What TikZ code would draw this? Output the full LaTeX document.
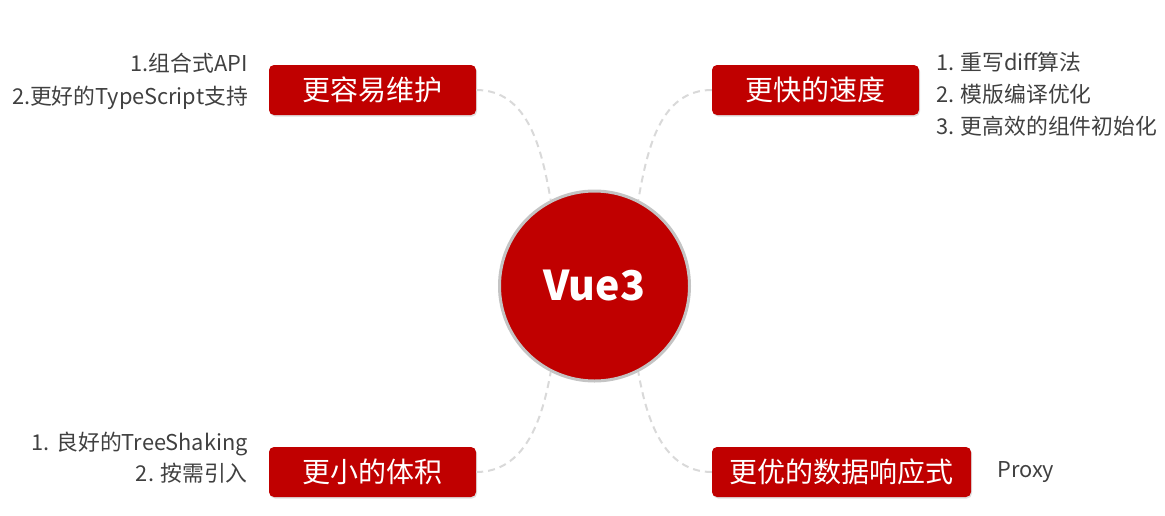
\documentclass[tikz,border=0pt]{standalone}
\usepackage{fontspec}
\setmainfont{Noto Sans CJK SC}
\usetikzlibrary{shadows}
\definecolor{vred}{HTML}{C00000}
\definecolor{ring}{HTML}{C4C4C4}
\definecolor{dashc}{HTML}{D9D9D9}
\definecolor{txt}{HTML}{404040}
\tikzset{
  topic/.style={fill=vred, rounded corners=5pt, minimum width=207pt, minimum height=50pt, inner sep=0pt,
    text=white, font=\fontsize{28}{30}\selectfont,
    drop shadow={shadow xshift=1pt, shadow yshift=-1.5pt, opacity=0.25}},
  hub/.style={circle, fill=vred, draw=ring, line width=3pt, minimum size=190pt, inner sep=0pt,
    text=white, font=\fontsize{41}{46}\selectfont\bfseries},
  link/.style={draw=dashc, line width=2pt, dash pattern=on 7pt off 5pt},
  note/.style={text=txt, inner sep=0pt, font=\fontsize{21.8}{24}\selectfont}
}
\begin{document}
\begin{tikzpicture}[x=1pt,y=1pt]
\useasboundingbox (0,0) rectangle (1165,-515);
\node[hub] (c) at (594.5,-286) {Vue3};
\node[topic] (b1) at (372.5,-90) {更容易维护};
\node[topic] (b2) at (815.5,-90) {更快的速度};
\node[topic] (b3) at (372.5,-472) {更小的体积};
\node[topic, minimum width=259pt] (b4) at (841.5,-472) {更优的数据响应式};
\draw[link] (b1.east) to[out=0,in=100] (c.117);
\draw[link] (b2.west) to[out=180,in=80] (c.63);
\draw[link] (b3.east) to[out=0,in=-100] (c.-117);
\draw[link] (b4.west) to[out=180,in=-80] (c.-63);
\node[note, anchor=base east] (l1) at (248,-71) {1.组合式API};
\node[note, anchor=base east] (l2) at (248,-104) {2.更好的TypeScript支持};
\node[note, anchor=base west] (r1) at (936,-70) {1. 重写diff算法};
\node[note, anchor=base west] (r2) at (936,-102) {2. 模版编译优化};
\node[note, anchor=base west] (r3) at (936,-134) {3. 更高效的组件初始化};
\node[note, anchor=base east] (s1) at (248,-450) {1. 良好的TreeShaking};
\node[note, anchor=base east] (s2) at (248,-481) {2. 按需引入};
\node[note, anchor=base west] (p1) at (997,-477) {Proxy};
\end{tikzpicture}
\end{document}
